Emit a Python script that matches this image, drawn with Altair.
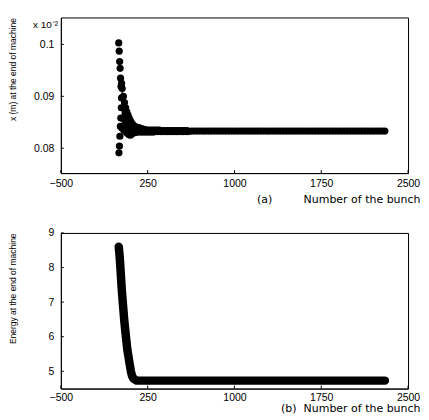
import altair as alt
import pandas as pd

FONT = "Liberation Sans"
TFONT = "DejaVu Sans"

# ---- axis tick values ----
X_TICKS = [-500, 250, 1000, 1750, 2500]
TOP_TICKS = [0.08, 0.09, 0.1]
E_TICKS = [5, 6, 7, 8, 9]
TOP_MULT = ["x 10\u207b\u00b2"]

# ---- panel (a): x (m) at the end of machine ----
# first bunches: wide spread column
col_bunch = [0, 2, 4, 6, 8, 10, 12, 14, 16, 18, 20, 22, 24]
col_x = [0.1003, 0.0791, 0.0987, 0.0804, 0.0967, 0.0823, 0.0954,
         0.0842, 0.0935, 0.0858, 0.0919, 0.0878, 0.0897]
# transient: envelope of the oscillation
env_bunch = [25, 30, 40, 50, 60, 70, 80, 90, 100, 110, 120, 140, 160,
             180, 200]
env_hi = [0.0925, 0.0915, 0.0900, 0.0888, 0.0878, 0.0870, 0.0864, 0.0858,
          0.0853, 0.0849, 0.0846, 0.0842, 0.0840, 0.0839, 0.0838]
env_lo = [0.0840, 0.0839, 0.0836, 0.0834, 0.0832, 0.0830, 0.0828, 0.0826,
          0.0825, 0.0827, 0.0829, 0.0830, 0.0831, 0.0831, 0.0831]
# settling bunches (every 10th)
settle_bunch = list(range(210, 601, 10))
settle_x = [0.0836, 0.0831, 0.0836, 0.0831, 0.0835, 0.0831, 0.0835, 0.0831,
            0.0835, 0.0831, 0.0835, 0.0832, 0.0835, 0.0832, 0.0835, 0.0832,
            0.0834, 0.0832, 0.0834, 0.0832, 0.0834, 0.0832, 0.0834, 0.0832,
            0.0834, 0.0832, 0.0834, 0.0832, 0.0834, 0.0832, 0.0834, 0.0832,
            0.0834, 0.0832, 0.0834, 0.0832, 0.0834, 0.0832, 0.0834, 0.0832]
# steady bunches (every 25th)
steady_bunch = list(range(625, 2301, 25))
steady_x = [0.0833, 0.0833, 0.0833, 0.0833, 0.0833, 0.0833, 0.0833, 0.0833,
            0.0833, 0.0833, 0.0833, 0.0833, 0.0833, 0.0833, 0.0833, 0.0833,
            0.0833, 0.0833, 0.0833, 0.0833, 0.0833, 0.0833, 0.0833, 0.0833,
            0.0833, 0.0833, 0.0833, 0.0833, 0.0833, 0.0833, 0.0833, 0.0833,
            0.0833, 0.0833, 0.0833, 0.0833, 0.0833, 0.0833, 0.0833, 0.0833,
            0.0833, 0.0833, 0.0833, 0.0833, 0.0833, 0.0833, 0.0833, 0.0833,
            0.0833, 0.0833, 0.0833, 0.0833, 0.0833, 0.0833, 0.0833, 0.0833,
            0.0833, 0.0833, 0.0833, 0.0833, 0.0833, 0.0833, 0.0833, 0.0833,
            0.0833, 0.0833, 0.0833, 0.0833]

# ---- panel (b): Energy at the end of machine ----
e_bunch = [0, 5, 10, 15, 20, 25, 30, 35, 40, 45, 50, 55, 60, 65, 70, 75, 80,
           85, 90, 95, 100, 105, 110, 115, 120, 125, 130, 135, 140, 145, 150,
           155, 160, 200, 300, 400, 600, 800, 1000, 1200, 1400, 1600, 1800,
           2000, 2200, 2300]
e_val = [8.60, 8.44, 8.22, 7.97, 7.70, 7.42, 7.20, 6.99, 6.79, 6.58, 6.39,
         6.23, 6.07, 5.91, 5.75, 5.61, 5.51, 5.41, 5.30, 5.20, 5.10, 5.00,
         4.93, 4.87, 4.83, 4.80, 4.78, 4.77, 4.76, 4.75, 4.74, 4.73, 4.73,
         4.73, 4.73, 4.73, 4.73, 4.73, 4.73, 4.73, 4.73, 4.73, 4.73, 4.73,
         4.73, 4.73]

top_pts = pd.DataFrame({
    "bunch": col_bunch + env_bunch + env_bunch + settle_bunch + steady_bunch,
    "x": col_x + env_hi + env_lo + settle_x + steady_x,
})
top_env = pd.DataFrame({"bunch": env_bunch, "hi": env_hi, "lo": env_lo})
energy = pd.DataFrame({"bunch": e_bunch, "e": e_val})
xt_df = pd.DataFrame({"t": X_TICKS})
yt_top_df = pd.DataFrame({"t": TOP_TICKS})
yt_bot_df = pd.DataFrame({"t": E_TICKS})
mult_df = pd.DataFrame({"t": TOP_MULT})

W, H = 348, 156
TK = 3  # inward tick length
xscale = alt.Scale(domain=[-500, 2500], nice=False, zero=False)


def xaxis(title, ty, lp):
    return alt.Axis(values=X_TICKS, format="d", title=title, grid=False,
                    ticks=False, labelPadding=lp, labelFlush=False,
                    titleX=W + 12, titleY=ty,
                    titleAlign="right", titleBaseline="alphabetic",
                    titleFont=TFONT, titleFontSize=11,
                    titleFontWeight="normal")


def yaxis(title, values, fmt):
    return alt.Axis(values=values, format=fmt, title=title, grid=False,
                    ticks=False, labelPadding=7, titleX=-48, titleY=0,
                    titleAngle=-90, titleAlign="right",
                    titleBaseline="middle", titleFontSize=8.5,
                    titleFontWeight="normal")


xa_top = xaxis("(a)" + "\u00a0" * 9 + "Number of the bunch", 29, 5)
xa_bot = xaxis("(b)\u00a0\u00a0Number of the bunch", 23, 4)
ya_top = yaxis("x (m) at the end of machine", TOP_TICKS, ".2~f")
ya_bot = yaxis("Energy at the end of machine", E_TICKS, "d")

yscale_top = alt.Scale(domain=[0.0752, 0.1052], nice=False, zero=False)
yscale_bot = alt.Scale(domain=[4.5, 9], nice=False, zero=False)


def tick_layers(xa, ya, ysc, ydf):
    xt = alt.Chart(xt_df).mark_rule(color="black", strokeWidth=1).encode(
        x=alt.X("t:Q", scale=xscale, axis=xa),
        y=alt.value(H), y2=alt.value(H - TK),
    )
    yt = alt.Chart(ydf).mark_rule(color="black", strokeWidth=1).encode(
        y=alt.Y("t:Q", scale=ysc, axis=ya),
        x=alt.value(0), x2=alt.value(TK),
    )
    return [xt, yt]


area = alt.Chart(top_env).mark_area(color="black", opacity=1).encode(
    x=alt.X("bunch:Q", scale=xscale, axis=xa_top),
    y=alt.Y("hi:Q", scale=yscale_top, axis=ya_top),
    y2="lo:Q",
)
pts = alt.Chart(top_pts).mark_circle(size=52, color="black", opacity=1).encode(
    x=alt.X("bunch:Q", scale=xscale, axis=xa_top),
    y=alt.Y("x:Q", scale=yscale_top, axis=ya_top),
)
mult = alt.Chart(mult_df).mark_text(
    align="left", baseline="alphabetic", font=FONT, fontSize=10,
    color="black",
).encode(text="t:N", x=alt.value(-28), y=alt.value(11))

top = alt.layer(
    area, pts, *tick_layers(xa_top, ya_top, yscale_top, yt_top_df), mult
).properties(width=W, height=H)

line = alt.Chart(energy).mark_line(color="black", strokeWidth=8.5,
                                   strokeCap="round",
                                   strokeJoin="round").encode(
    x=alt.X("bunch:Q", scale=xscale, axis=xa_bot),
    y=alt.Y("e:Q", scale=yscale_bot, axis=ya_bot),
)
bot = alt.layer(
    line, *tick_layers(xa_bot, ya_bot, yscale_bot, yt_bot_df)
).properties(width=W, height=H)

chart = alt.vconcat(top, bot, spacing=22).properties(
    padding={"left": 0, "top": 8, "right": 0, "bottom": 0}
).configure_view(stroke="black", strokeWidth=1).configure_axis(
    labelFont=FONT, titleFont=FONT, labelFontSize=10.5, labelColor="black",
    titleColor="black", domainColor="black", domainWidth=1,
)

chart.save("out.html", embed_options={"renderer": "svg", "actions": False})
